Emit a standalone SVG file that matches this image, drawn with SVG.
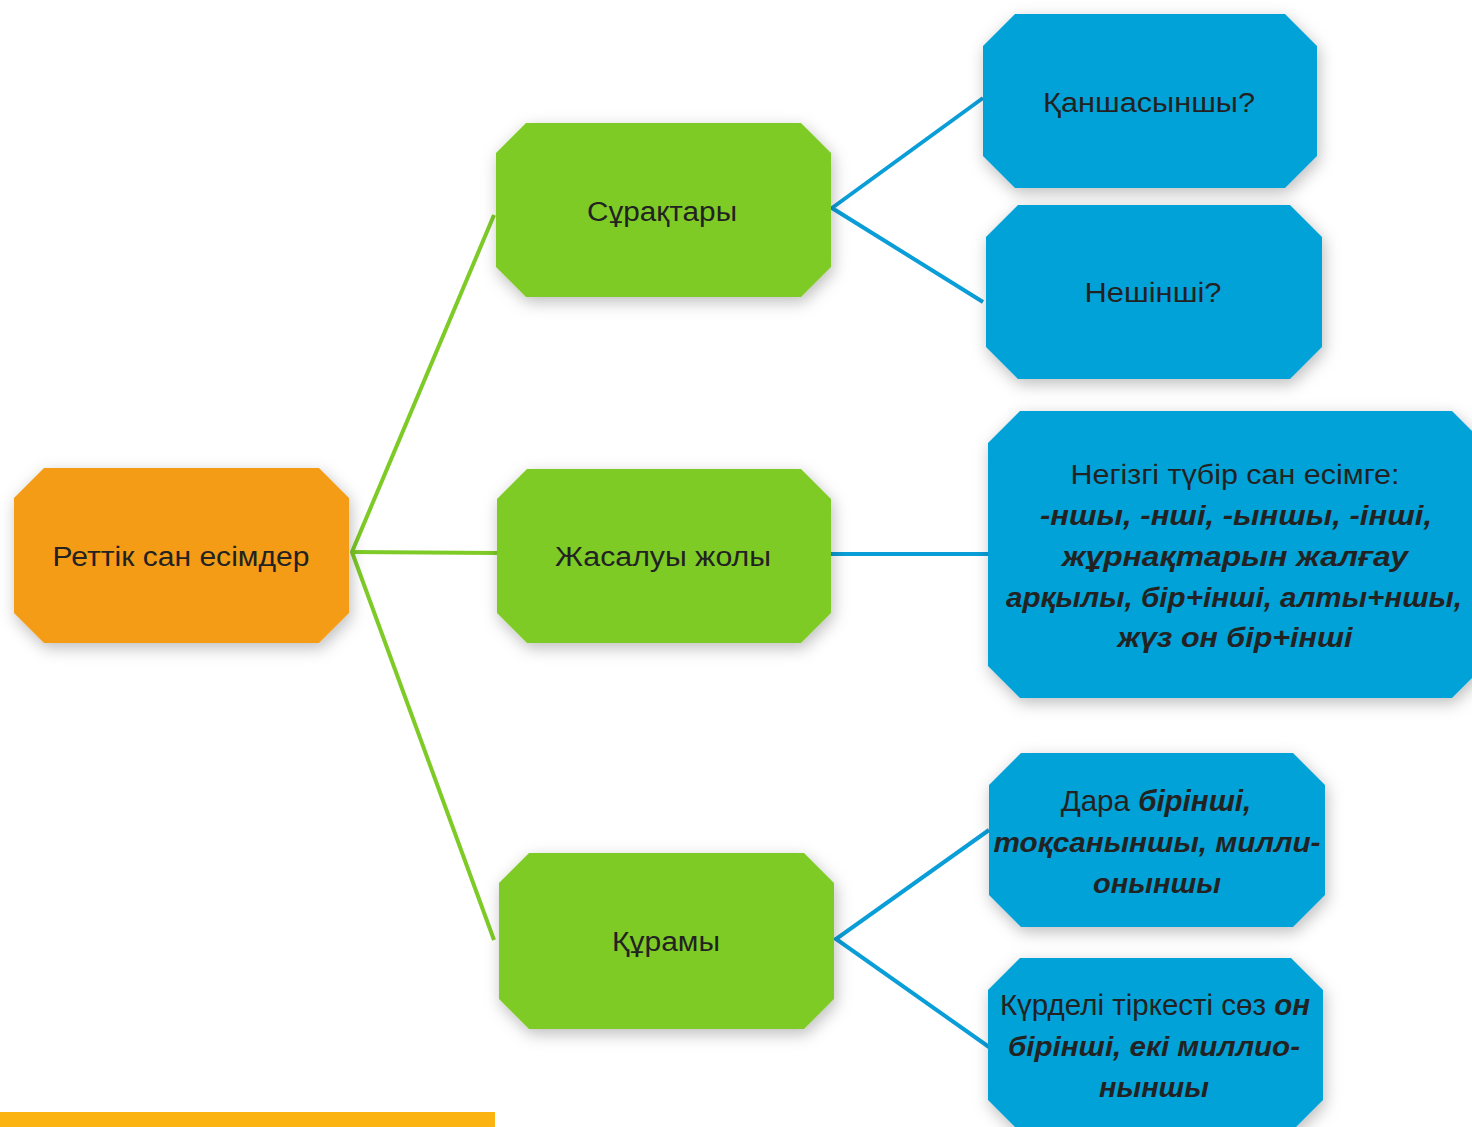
<svg xmlns="http://www.w3.org/2000/svg" width="1472" height="1127" viewBox="0 0 1472 1127">
<defs>
<filter id="sh" x="-20%" y="-20%" width="140%" height="150%">
<feDropShadow dx="2" dy="5" stdDeviation="8" flood-color="#000" flood-opacity="0.26"/>
</filter>
<style>
.t{font-family:"Liberation Sans","DejaVu Sans",sans-serif;font-size:27px;fill:#222;text-anchor:middle}
.b{font-weight:bold;font-style:italic}
.m{font-size:29.5px}
.or{fill:#f59c12}
.gr{fill:#7ecb27}
.bl{fill:#04a2d8}
.lg{stroke:#7ecb27;stroke-width:4;fill:none}
.lb{stroke:#0a9ed8;stroke-width:4;fill:none}
</style>
</defs>
<rect width="1472" height="1127" fill="#fff"/>
<g id="connectors">
<polyline class="lg" points="494,215 352,552 494,940"/>
<line class="lg" x1="352" y1="552" x2="498" y2="553"/>
<polyline class="lb" points="983,98 832,208 983,302"/>
<line class="lb" x1="831" y1="554" x2="990" y2="554"/>
<polyline class="lb" points="989,830 836,939 989,1047"/>
</g>
<g id="n-root">
<polygon class="or" filter="url(#sh)" points="44,468 319,468 349,498 349,613 319,643 44,643 14,613 14,498"/>
<text class="t" x="181" y="566" textLength="257" lengthAdjust="spacingAndGlyphs">Реттік сан есімдер</text>
</g>
<g id="n-suraktary">
<polygon class="gr" filter="url(#sh)" points="526,123 801,123 831,153 831,267 801,297 526,297 496,267 496,153"/>
<text class="t" x="662" y="221" textLength="150" lengthAdjust="spacingAndGlyphs">Сұрақтары</text>
</g>
<g id="n-zhasaluy">
<polygon class="gr" filter="url(#sh)" points="527,469 801,469 831,499 831,613 801,643 527,643 497,613 497,499"/>
<text class="t" x="663" y="566" textLength="216" lengthAdjust="spacingAndGlyphs">Жасалуы жолы</text>
</g>
<g id="n-kuramy">
<polygon class="gr" filter="url(#sh)" points="529,853 804,853 834,883 834,999 804,1029 529,1029 499,999 499,883"/>
<text class="t" x="666" y="951" textLength="108" lengthAdjust="spacingAndGlyphs">Құрамы</text>
</g>
<g id="n-kanshasynshy">
<polygon class="bl" filter="url(#sh)" points="1015,14 1285,14 1317,46 1317,156 1285,188 1015,188 983,156 983,46"/>
<text class="t" x="1149" y="112" textLength="212" lengthAdjust="spacingAndGlyphs">Қаншасыншы?</text>
</g>
<g id="n-neshinshi">
<polygon class="bl" filter="url(#sh)" points="1018,205 1290,205 1322,237 1322,347 1290,379 1018,379 986,347 986,237"/>
<text class="t" x="1153" y="302" textLength="137" lengthAdjust="spacingAndGlyphs">Нешінші?</text>
</g>
<g id="n-zhasaluy-desc">
<polygon class="bl" filter="url(#sh)" points="1020,411 1452,411 1484,443 1484,666 1452,698 1020,698 988,666 988,443"/>
<text class="t" x="1235" y="484" textLength="329" lengthAdjust="spacingAndGlyphs">Негізгі түбір сан есімге:</text>
<text class="t b" x="1236" y="525" textLength="392" lengthAdjust="spacingAndGlyphs">-ншы, -нші, -ыншы, -інші,</text>
<text class="t b" x="1235" y="566" textLength="346" lengthAdjust="spacingAndGlyphs">жұрнақтарын жалғау</text>
<text class="t b" x="1234" y="607" textLength="456" lengthAdjust="spacingAndGlyphs">арқылы, бір+інші, алты+ншы,</text>
<text class="t b" x="1235" y="647" textLength="235" lengthAdjust="spacingAndGlyphs">жүз он бір+інші</text>
</g>
<g id="n-dara">
<polygon class="bl" filter="url(#sh)" points="1021,753 1293,753 1325,785 1325,895 1293,927 1021,927 989,895 989,785"/>
<text class="t m" x="1156" y="811">Дара <tspan class="b">бірінші,</tspan></text>
<text class="t b" x="1157" y="852" textLength="327" lengthAdjust="spacingAndGlyphs">тоқсаныншы, милли-</text>
<text class="t b" x="1157" y="893" textLength="128" lengthAdjust="spacingAndGlyphs">оныншы</text>
</g>
<g id="n-kurdeli">
<polygon class="bl" filter="url(#sh)" points="1020,958 1291,958 1323,990 1323,1100 1291,1132 1020,1132 988,1100 988,990"/>
<text class="t m" x="1155" y="1015">Күрделі тіркесті сөз <tspan class="b">он</tspan></text>
<text class="t b" x="1154" y="1056" textLength="292" lengthAdjust="spacingAndGlyphs">бірінші, екі миллио-</text>
<text class="t b" x="1154" y="1097" textLength="110" lengthAdjust="spacingAndGlyphs">ныншы</text>
</g>
<rect x="0" y="1112" width="495" height="15" fill="#fbb312"/>
</svg>
